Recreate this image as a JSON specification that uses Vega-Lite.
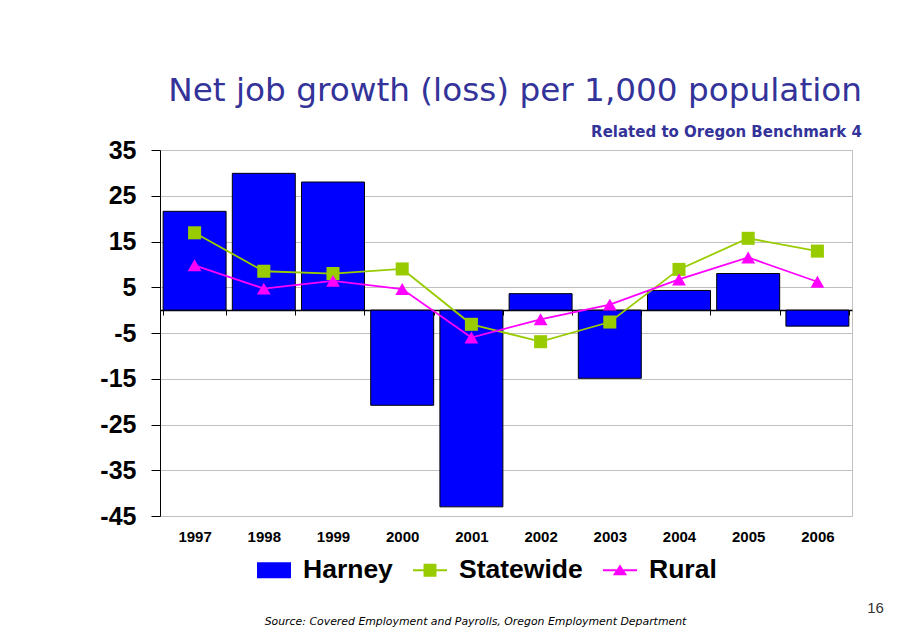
{
  "$schema": "https://vega.github.io/schema/vega-lite/v6.json",
  "width": 692,
  "height": 366,
  "autosize": "none",
  "padding": {"left": 160, "top": 150, "right": 72, "bottom": 123},
  "background": "white",
  "config": {"view": {"stroke": "#c0c0c0", "strokeWidth": 1}},
  "title": {
    "text": "Net job growth (loss) per 1,000 population",
    "subtitle": "Related to Oregon Benchmark 4",
    "anchor": "end",
    "frame": "group",
    "dx": 10,
    "offset": -2,
    "font": "DejaVu Sans",
    "fontSize": 32.7,
    "fontWeight": "normal",
    "color": "#333399",
    "subtitleFont": "DejaVu Sans",
    "subtitleFontSize": 15,
    "subtitleFontWeight": "bold",
    "subtitleColor": "#333399",
    "subtitlePadding": 17
  },
  "data": {
    "values": [
      {"year": "1997", "series": "Harney", "value": 21.6},
      {"year": "1998", "series": "Harney", "value": 29.9},
      {"year": "1999", "series": "Harney", "value": 28.0},
      {"year": "2000", "series": "Harney", "value": -20.8},
      {"year": "2001", "series": "Harney", "value": -43.0},
      {"year": "2002", "series": "Harney", "value": 3.6},
      {"year": "2003", "series": "Harney", "value": -14.9},
      {"year": "2004", "series": "Harney", "value": 4.3},
      {"year": "2005", "series": "Harney", "value": 8.0},
      {"year": "2006", "series": "Harney", "value": -3.5},
      {"year": "1997", "series": "Statewide", "value": 16.9},
      {"year": "1998", "series": "Statewide", "value": 8.5},
      {"year": "1999", "series": "Statewide", "value": 8.0},
      {"year": "2000", "series": "Statewide", "value": 9.0},
      {"year": "2001", "series": "Statewide", "value": -3.1},
      {"year": "2002", "series": "Statewide", "value": -6.9},
      {"year": "2003", "series": "Statewide", "value": -2.6},
      {"year": "2004", "series": "Statewide", "value": 8.9},
      {"year": "2005", "series": "Statewide", "value": 15.7},
      {"year": "2006", "series": "Statewide", "value": 12.9},
      {"year": "1997", "series": "Rural", "value": 9.8},
      {"year": "1998", "series": "Rural", "value": 4.7},
      {"year": "1999", "series": "Rural", "value": 6.4},
      {"year": "2000", "series": "Rural", "value": 4.6},
      {"year": "2001", "series": "Rural", "value": -6.0},
      {"year": "2002", "series": "Rural", "value": -2.0},
      {"year": "2003", "series": "Rural", "value": 1.2},
      {"year": "2004", "series": "Rural", "value": 6.7},
      {"year": "2005", "series": "Rural", "value": 11.5},
      {"year": "2006", "series": "Rural", "value": 6.2}
    ]
  },
  "encoding": {
    "x": {
      "field": "year",
      "type": "ordinal",
      "scale": {"paddingInner": 0.09, "paddingOuter": 0.045},
      "axis": {
        "orient": "bottom",
        "offset": -206,
        "domainColor": "black",
        "domainWidth": 1.5,
        "tickColor": "black",
        "tickSize": 5,
        "tickBand": "extent",
        "labelFont": "Liberation Sans",
        "labelFontSize": 15,
        "labelFontWeight": "bold",
        "labelColor": "black",
        "labelPadding": 214,
        "labelAngle": 0,
        "grid": false,
        "title": "Source:  Covered Employment and Payrolls, Oregon Employment Department",
        "titleFont": "DejaVu Sans",
        "titleFontStyle": "italic",
        "titleFontWeight": "normal",
        "titleFontSize": 10.9,
        "titleColor": "black",
        "titleX": 315,
        "titleY": 314,
        "titleAlign": "center",
        "titleBaseline": "alphabetic"
      }
    },
    "y": {
      "field": "value",
      "type": "quantitative",
      "scale": {"domain": [-45, 35], "nice": false, "zero": false},
      "axis": {
        "values": [35, 25, 15, 5, -5, -15, -25, -35, -45],
        "labelExpr": "'' + datum.value",
        "grid": true,
        "gridColor": "#c0c0c0",
        "gridWidth": 1,
        "domainColor": "black",
        "domainWidth": 1,
        "tickColor": "black",
        "tickSize": 9,
        "labelFont": "Liberation Sans",
        "labelFontSize": 25,
        "labelFontWeight": "bold",
        "labelColor": "black",
        "labelPadding": 15,
        "title": "16",
        "titleAngle": 0,
        "titleX": 715,
        "titleY": 462,
        "titleFont": "Liberation Sans",
        "titleFontSize": 15,
        "titleFontWeight": "normal",
        "titleColor": "#333333",
        "titleAlign": "center",
        "titleBaseline": "alphabetic"
      }
    }
  },
  "layer": [
    {
      "transform": [{"filter": "datum.series === 'Harney'"}],
      "mark": {"type": "bar", "stroke": "black", "strokeWidth": 1, "opacity": 1},
      "encoding": {
        "color": {
          "field": "series",
          "type": "nominal",
          "scale": {"domain": ["Harney", "Statewide", "Rural"], "range": ["#0000FF", "#99CC00", "#FF00FF"]}
        }
      }
    },
    {
      "transform": [{"filter": "datum.series !== 'Harney'"}],
      "mark": {"type": "line", "strokeWidth": 1.8},
      "encoding": {
        "color": {"field": "series", "type": "nominal"}
      }
    },
    {
      "transform": [{"filter": "datum.series === 'Statewide'"}],
      "mark": {"type": "point", "shape": "square", "filled": true, "size": 170, "color": "#99CC00", "opacity": 1}
    },
    {
      "transform": [{"filter": "datum.series === 'Rural'"}],
      "mark": {"type": "point", "shape": "triangle-up", "filled": true, "size": 190, "color": "#FF00FF", "opacity": 1}
    },
    {
      "transform": [{"filter": "datum.series !== 'Harney'"}],
      "mark": {"type": "point", "size": 1, "filled": true, "opacity": 1},
      "encoding": {
        "color": {
          "field": "series",
          "type": "nominal",
          "legend": {
            "orient": "none",
            "legendX": 97,
            "legendY": 403,
            "direction": "horizontal",
            "title": null,
            "padding": 0,
            "symbolSize": 1156,
            "symbolStrokeWidth": 0,
            "symbolOpacity": 1,
            "labelFont": "Liberation Sans",
            "labelFontSize": 26.5,
            "labelFontWeight": "bold",
            "labelColor": "black",
            "labelOffset": 12,
            "columnPadding": 20
          }
        },
        "shape": {
          "field": "series",
          "type": "nominal",
          "scale": {
            "domain": ["Harney", "Statewide", "Rural"],
            "range": [
              "M-1,-0.47H1V0.47H-1Z",
              "M-1,-0.06H1V0.06H-1ZM-0.38,-0.38H0.38V0.38H-0.38Z",
              "M-1,-0.06H1V0.06H-1ZM-0.42,0.3L0,-0.34L0.42,0.3Z"
            ]
          },
          "legend": {
            "orient": "none",
            "legendX": 97,
            "legendY": 403,
            "direction": "horizontal",
            "title": null,
            "padding": 0,
            "symbolSize": 1156,
            "symbolStrokeWidth": 0,
            "symbolOpacity": 1,
            "labelFont": "Liberation Sans",
            "labelFontSize": 26.5,
            "labelFontWeight": "bold",
            "labelColor": "black",
            "labelOffset": 12,
            "columnPadding": 20
          }
        }
      }
    }
  ]
}
